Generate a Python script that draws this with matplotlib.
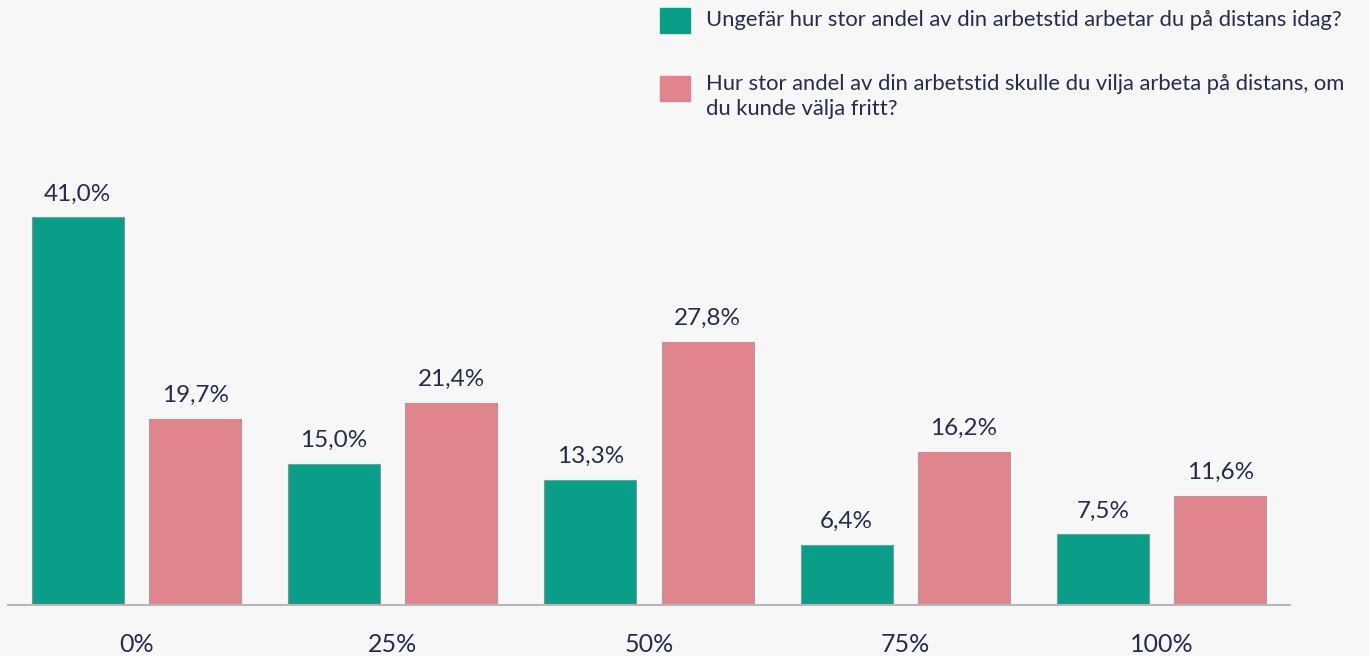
import matplotlib.pyplot as plt
from matplotlib.patches import Rectangle

# data
categories = ['0%', '25%', '50%', '75%', '100%']
today = [41.0, 15.0, 13.3, 6.4, 7.5]
wish = [19.7, 21.4, 27.8, 16.2, 11.6]
legend_labels = [
    'Ungefär hur stor andel av din arbetstid arbetar du på distans idag?',
    'Hur stor andel av din arbetstid skulle du vilja arbeta på distans, om\ndu kunde välja fritt?',
]

teal = '#0a9e89'
pink = '#e0848e'
bg = '#f7f7f7'
txt = '#272b50'

plt.rcParams['font.family'] = ['Lato', 'DejaVu Sans']

fig = plt.figure(figsize=(13.69, 6.56), dpi=100)
fig.patch.set_facecolor(bg)
ax = fig.add_axes([8 / 1369, 0.077, 0.9365, 0.689])
ax.set_facecolor(bg)

x = range(len(categories))
w = 0.359
off = 0.229
b1 = ax.bar([i - off for i in x], today, width=w, color=teal, edgecolor='#7a9a94', linewidth=0.8)
b2 = ax.bar([i + off for i in x], wish, width=w, color=pink, edgecolor='#b09a9c', linewidth=0.8)

for bars, vals in ((b1, today), (b2, wish)):
    for r, v in zip(bars, vals):
        ax.annotate(f'{v:.1f}%'.replace('.', ','), (r.get_x() + r.get_width() / 2, v),
                    xytext=(0, 17), textcoords='offset pixels', ha='center', va='baseline',
                    fontsize=17.5, color=txt)

ax.set_xlim(-0.501, 4.501)
ax.set_ylim(0, 47.75)
ax.set_xticks(list(x))
ax.set_xticklabels(categories, fontsize=18, color=txt)
ax.tick_params(axis='x', length=0, pad=20)
ax.set_yticks([])
for s in ['top', 'left', 'right']:
    ax.spines[s].set_visible(False)
ax.spines['bottom'].set_color('#b8b8b8')
ax.spines['bottom'].set_linewidth(1.5)

# legend drawn by hand
fig.patches.append(Rectangle((660 / 1369, 1 - 33 / 656), 30 / 1369, 25 / 656,
                             transform=fig.transFigure, color=teal, figure=fig))
fig.patches.append(Rectangle((660 / 1369, 1 - 101 / 656), 30 / 1369, 25 / 656,
                             transform=fig.transFigure, color=pink, figure=fig))
fig.text(706 / 1369, 1 - 20 / 656, legend_labels[0], fontsize=15.8, color=txt, va='center')
fig.text(706 / 1369, 1 - 74 / 656, legend_labels[1], fontsize=15.8, color=txt, va='top',
         linespacing=1.3)

fig.savefig('out.png', dpi=100, facecolor=bg)
